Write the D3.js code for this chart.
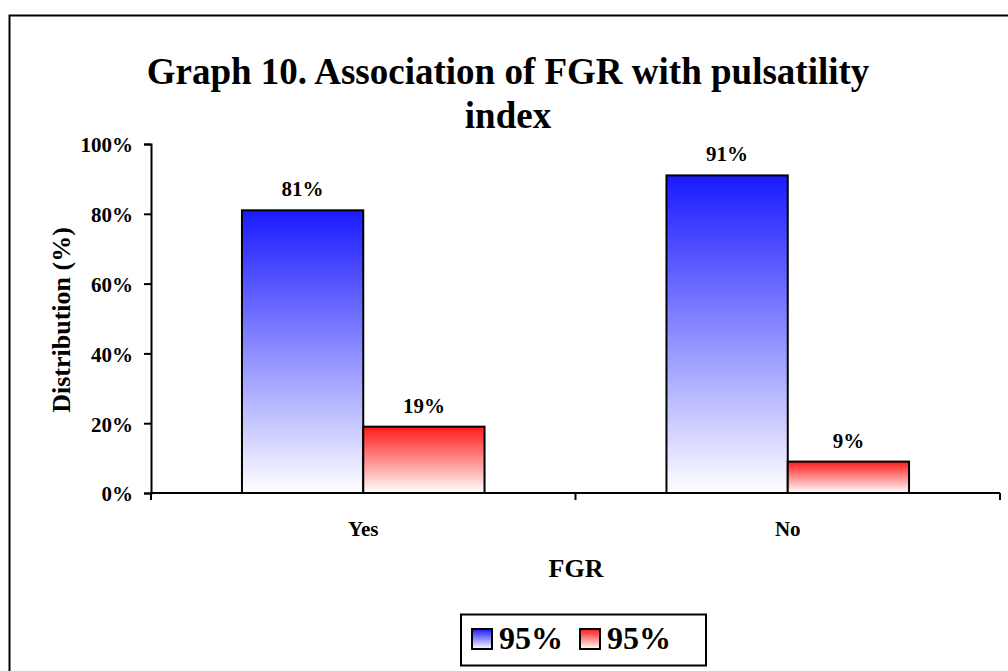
<!DOCTYPE html>
<html>
<head>
<meta charset="utf-8">
<script src="https://cdn.jsdelivr.net/npm/d3@7"></script>
<style>
  html, body { margin: 0; padding: 0; background: #fff; }
  svg { display: block; }
  svg text { font-family: "Liberation Serif", "Times New Roman", Times, serif; font-weight: bold; fill: #000; }
</style>
</head>
<body>
<svg id="chart" width="1008" height="671"></svg>
<script>
// Graph 10 - FGR vs pulsatility index

// -----------------------------------------------------------------------------
// DATA
// -----------------------------------------------------------------------------

const categories = ['Yes', 'No'];
const seriesNames = ['95%', '95%'];
const seriesA = [81, 91];   // blue
const seriesB = [19, 9];    // red
const yTicks = [0, 20, 40, 60, 80, 100];

const COLORS = [
  { id: 'gradBlue', top: '#1a1aff' },
  { id: 'gradRed', top: '#ff1a1a' }
];

// -----------------------------------------------------------------------------
// SETUP
// -----------------------------------------------------------------------------

const svg = d3.select('#chart');
const plot = { left: 151, right: 1000, top: 144, bottom: 493 };

const defs = svg.append('defs');
COLORS.forEach(c => {
  const g = defs.append('linearGradient')
    .attr('id', c.id).attr('x1', 0).attr('y1', 0).attr('x2', 0).attr('y2', 1);
  g.append('stop').attr('offset', '0%').attr('stop-color', c.top);
  g.append('stop').attr('offset', '100%').attr('stop-color', '#ffffff');
});

// outer frame (runs off the right and bottom edges)
svg.append('rect')
  .attr('x', 9.5).attr('y', 15.5).attr('width', 1010).attr('height', 670)
  .attr('fill', 'none').attr('stroke', '#000').attr('stroke-width', 2);

const x = d3.scaleBand().domain(categories).range([plot.left, plot.right]).paddingInner(0).paddingOuter(0);
const y = d3.scaleLinear().domain([0, 100]).range([plot.bottom, plot.top]);
const inner = d3.scaleBand().domain([0, 1]).range([0, x.bandwidth()]).paddingOuter(0.75).paddingInner(0);

// -----------------------------------------------------------------------------
// BARS
// -----------------------------------------------------------------------------

const series = [seriesA, seriesB];
series.forEach((vals, si) => {
  const grp = svg.append('g');
  grp.selectAll('rect')
    .data(categories)
    .enter()
    .append('rect')
    .attr('x', (d) => x(d) + inner(si))
    .attr('width', inner.bandwidth())
    .attr('y', (d, i) => y(vals[i]))
    .attr('height', (d, i) => y(0) - y(vals[i]))
    .attr('fill', `url(#${COLORS[si].id})`)
    .attr('stroke', '#000').attr('stroke-width', 2);

  grp.selectAll('text')
    .data(categories)
    .enter()
    .append('text')
    .attr('x', (d) => x(d) + inner(si) + inner.bandwidth() / 2)
    .attr('y', (d, i) => y(vals[i]) - 14)
    .attr('text-anchor', 'middle')
    .attr('font-size', 21)
    .text((d, i) => vals[i] + '%');
});

// -----------------------------------------------------------------------------
// AXES
// -----------------------------------------------------------------------------

const yAxis = svg.append('g')
  .attr('transform', `translate(${plot.left},0)`)
  .call(d3.axisLeft(y).tickValues(yTicks).tickFormat(d => d + '%').tickSize(7).tickPadding(11));
yAxis.attr('font-family', null).attr('font-size', null);
yAxis.select('.domain').attr('stroke-width', 2);
yAxis.selectAll('.tick line').attr('stroke-width', 2);
yAxis.selectAll('.tick text').attr('font-size', 21).attr('dy', '0.38em');

svg.append('line')
  .attr('x1', plot.left).attr('x2', plot.right)
  .attr('y1', plot.bottom).attr('y2', plot.bottom)
  .attr('stroke', '#000').attr('stroke-width', 2);
// boundary ticks between categories
const bounds = [plot.left, x('No'), plot.right];
svg.selectAll('.xtick')
  .data(bounds)
  .enter()
  .append('line')
  .attr('x1', d => d).attr('x2', d => d)
  .attr('y1', plot.bottom).attr('y2', plot.bottom + 7)
  .attr('stroke', '#000').attr('stroke-width', 2);
svg.selectAll('.xlabel')
  .data(categories)
  .enter()
  .append('text')
  .attr('x', d => x(d) + x.bandwidth() / 2)
  .attr('y', 536)
  .attr('text-anchor', 'middle')
  .attr('font-size', 21)
  .text(d => d);

// -----------------------------------------------------------------------------
// TITLES
// -----------------------------------------------------------------------------

svg.append('text')
  .attr('x', 508).attr('y', 84).attr('text-anchor', 'middle')
  .attr('font-size', 37).text('Graph 10. Association of FGR with pulsatility');
svg.append('text')
  .attr('x', 508).attr('y', 128).attr('text-anchor', 'middle')
  .attr('font-size', 37).text('index');

svg.append('text')
  .attr('transform', 'translate(70,320) rotate(-90)')
  .attr('text-anchor', 'middle').attr('font-size', 26)
  .text('Distribution (%)');

svg.append('text')
  .attr('x', 576).attr('y', 577).attr('text-anchor', 'middle')
  .attr('font-size', 26).text('FGR');

// -----------------------------------------------------------------------------
// LEGEND
// -----------------------------------------------------------------------------

const legend = svg.append('g');
legend.append('rect')
  .attr('x', 461).attr('y', 614.5).attr('width', 245).attr('height', 51)
  .attr('fill', '#fff').attr('stroke', '#000').attr('stroke-width', 2);
const items = [{ x: 472 }, { x: 580 }];
items.forEach((it, i) => {
  legend.append('rect')
    .attr('x', it.x).attr('y', 629).attr('width', 20).attr('height', 20)
    .attr('fill', `url(#${COLORS[i].id})`).attr('stroke', '#000').attr('stroke-width', 2);
  legend.append('text')
    .attr('x', it.x + 27).attr('y', 649)
    .attr('font-size', 32).text(seriesNames[i]);
});
</script>
</body>
</html>
